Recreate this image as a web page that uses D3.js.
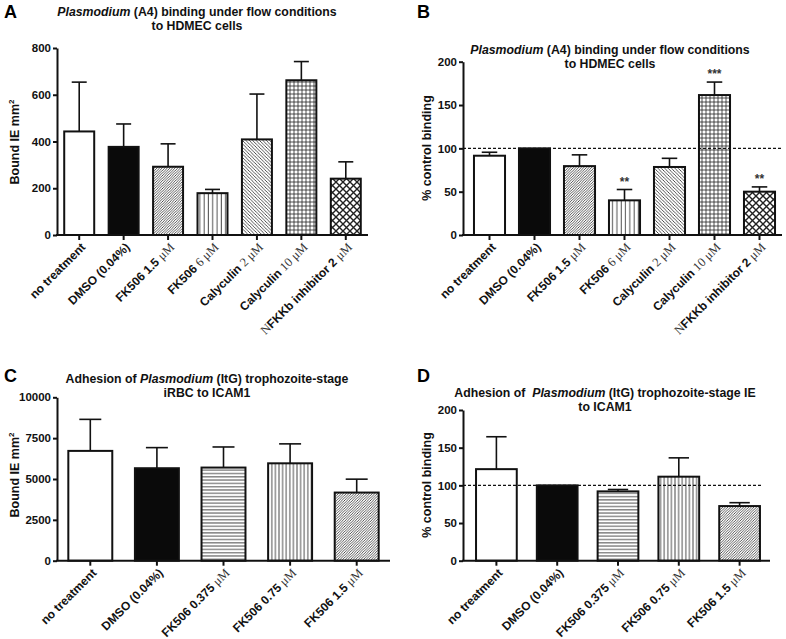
<!DOCTYPE html>
<html>
<head>
<meta charset="utf-8">
<script src="https://cdn.jsdelivr.net/npm/d3@7"></script>
<style>
  body { margin: 0; background: #fff; }
  svg { font-family: Arial, "Liberation Sans", sans-serif; }
</style>
</head>
<body>
<div id="chart"></div>
<script>
// data
const labelsAB = ["no treatment", "DMSO (0.04%)", "FK506 1.5 {μM}", "FK506 {6 μM}",
  "Calyculin {2 μM}", "Calyculin {10 μM}", "{N}FKKb inhibitor 2 {μM}"];
const meansA = [443, 377, 292, 179, 409, 662, 241];
const errA = [654, 475, 390, 195, 603, 742, 313];
const meansB = [91.5, 100, 79.5, 40, 78.5, 161.5, 50];
const errB = [95.5, 100, 92.5, 52.5, 88.5, 176.5, 55.5];
const starsB = ["", "", "", "**", "", "***", "**"];

const labelsCD = ["no treatment", "DMSO (0.04%)", "FK506 0.375 {μM}", "FK506 0.75 {μM}", "FK506 1.5 {μM}"];
const meansC = [6720, 5660, 5700, 5960, 4170];
const errC = [8650, 6920, 6960, 7150, 4990];
const meansD = [121.5, 100, 92, 111.5, 72.5];
const errD = [164.5, 100, 94.5, 136.5, 77];

const ticksA = [0, 200, 400, 600, 800];
const ticksB = [0, 50, 100, 150, 200];
const ticksC = [0, 2500, 5000, 7500, 10000];
const ticksD = [0, 50, 100, 150, 200];

// fills per bar
const fillsAB = ["white", "#0a0a0a", "url(#diag)", "url(#vert)", "url(#back)", "url(#grid)", "url(#cross)"];
const fillsCD = ["white", "#0a0a0a", "url(#horiz)", "url(#vert2)", "url(#diag)"];

const svg = d3.select("#chart").append("svg")
  .attr("width", 786).attr("height", 639);
svg.append("rect").attr("width", 786).attr("height", 639).attr("fill", "white");

// hatch patterns
const defs = svg.append("defs");
function hatch(id, size, lines, sw) {
  const p = defs.append("pattern").attr("id", id)
    .attr("patternUnits", "userSpaceOnUse")
    .attr("width", size).attr("height", size);
  p.append("rect").attr("width", size).attr("height", size).attr("fill", "white");
  lines.forEach(l => p.append("path").attr("d", l)
    .attr("stroke", "#222").attr("stroke-width", sw).attr("fill", "none"));
}
hatch("diag", 2.6, ["M-1,1 l2,-2 M0,2.6 l2.6,-2.6 M1.6,3.6 l2,-2"], 0.75);
hatch("back", 3.4, ["M-1,-1 l2,2 M0,0 l3.4,3.4 M2.4,-1 l2,2 M-1,2.4 l2,2"], 0.75);
hatch("vert", 4.3, ["M2,0 v4.3"], 0.8);
hatch("vert2", 3.6, ["M1.8,0 v3.6"], 0.8);
hatch("horiz", 3.3, ["M0,1.6 h3.3"], 0.8);
hatch("grid", 4, ["M2,0 v4 M0,2 h4"], 0.8);
hatch("cross", 7, ["M0,0 l7,7 M7,0 l-7,7"], 1.4);

function renderLabel(sel, str) {
  const parts = str.split(/(\{[^}]*\})/).filter(s => s.length);
  parts.forEach(s => {
    if (s.startsWith("{")) {
      sel.append("tspan").text(s.slice(1, -1))
        .style("font-family", "'Liberation Serif', 'DejaVu Serif', serif")
        .style("font-weight", "normal").style("font-size", "12.5px").attr("fill", "#333");
    } else {
      sel.append("tspan").text(s);
    }
  });
}

function drawPanel(cfg) {
  const g = svg.append("g");
  const x = d3.scaleBand().domain(cfg.labels).range(cfg.xRange)
    .paddingInner(cfg.pad).paddingOuter(cfg.pad / 2);
  const y = d3.scaleLinear().domain([0, cfg.yMax]).range(cfg.yRange);
  const axisX = cfg.axisX;
  const y0 = y(0);

  // panel letter
  g.append("text").attr("x", cfg.letter[1]).attr("y", cfg.letter[2])
    .style("font-size", "18px").style("font-weight", "bold").text(cfg.letter[0]);

  // title
  const t = g.append("text").attr("text-anchor", "middle")
    .style("font-size", "12.3px").style("font-weight", "bold").style("white-space", "pre")
    .attr("fill", "#111");
  cfg.title.forEach((line, i) => {
    const ts = t.append("tspan").attr("x", cfg.titlePos[0]).attr("y", cfg.titlePos[1] + i * 13.5);
    line.split(/(Plasmodium)/).forEach(s => {
      if (!s) return;
      const sp = ts.append("tspan").text(s);
      if (s === "Plasmodium") sp.style("font-style", "italic");
    });
  });

  const data = cfg.labels.map((l, i) => ({ l, v: cfg.means[i], e: cfg.errs[i], f: cfg.fills[i], s: cfg.stars ? cfg.stars[i] : "" }));

  // error bars (upper only)
  const capW = x.bandwidth() / 2;
  data.forEach(d => {
    if (d.e <= d.v) return;
    const cx = x(d.l) + x.bandwidth() / 2;
    g.append("line").attr("x1", cx).attr("x2", cx).attr("y1", y(d.v)).attr("y2", y(d.e))
      .attr("stroke", "#111").attr("stroke-width", 1.6);
    g.append("line").attr("x1", cx - capW / 2).attr("x2", cx + capW / 2).attr("y1", y(d.e)).attr("y2", y(d.e))
      .attr("stroke", "#111").attr("stroke-width", 1.6);
  });

  // bars
  g.selectAll(".bar").data(data).enter().append("rect")
    .attr("x", d => x(d.l)).attr("width", x.bandwidth())
    .attr("y", d => y(d.v)).attr("height", d => y0 - y(d.v))
    .attr("fill", d => d.f).attr("stroke", "#111").attr("stroke-width", 2);

  // significance stars
  g.selectAll(".star").data(data.filter(d => d.s)).enter().append("text")
    .attr("x", d => x(d.l) + x.bandwidth() / 2).attr("y", d => y(d.e) - 4)
    .attr("text-anchor", "middle").style("font-size", "12px").style("font-weight", "bold")
    .attr("fill", "#333").text(d => d.s);

  // reference line
  if (cfg.refLine) {
    g.append("line").attr("x1", axisX).attr("x2", cfg.refEnd)
      .attr("y1", y(100)).attr("y2", y(100))
      .attr("stroke", "#111").attr("stroke-width", 1.3).attr("stroke-dasharray", "3,2");
  }

  // y axis
  const ya = g.append("g").attr("transform", `translate(${axisX},0)`)
    .call(d3.axisLeft(y).tickValues(cfg.ticks).tickSize(4).tickSizeOuter(0).tickPadding(2)
      .tickFormat(d3.format("d")));
  ya.select(".domain").attr("stroke", "#111").attr("stroke-width", 2);
  ya.selectAll(".tick line").attr("stroke", "#111").attr("stroke-width", 2);
  ya.selectAll(".tick text").style("font-size", "11.5px").style("font-weight", "bold")
    .style("font-family", "Arial, 'Liberation Sans', sans-serif").attr("fill", "#111");

  // x axis
  const xa = g.append("g").attr("transform", `translate(0,${y0})`)
    .call(d3.axisBottom(x).tickSize(5).tickFormat(""));
  xa.select(".domain").remove();
  xa.selectAll(".tick line").attr("stroke", "#111").attr("stroke-width", 2);
  g.append("line").attr("x1", axisX - 1).attr("x2", cfg.xRange[1]).attr("y1", y0).attr("y2", y0)
    .attr("stroke", "#111").attr("stroke-width", 2);

  // rotated category labels
  cfg.labels.forEach(l => {
    const cx = x(l) + x.bandwidth() / 2;
    const tx = g.append("text")
      .attr("transform", `translate(${cx + 4},${y0 + 10}) rotate(-45)`)
      .attr("text-anchor", "end").attr("dy", "0.35em")
      .style("font-size", "12px").style("font-weight", "bold").attr("fill", "#111");
    renderLabel(tx, l);
  });

  // y axis label
  const yl = g.append("text")
    .attr("transform", `translate(${cfg.yLabelPos[0]},${cfg.yLabelPos[1]}) rotate(-90)`)
    .attr("text-anchor", "middle").attr("dy", "0.35em")
    .style("font-size", "12.5px").style("font-weight", "bold").attr("fill", "#111");
  if (cfg.yLabel === "Bound IE mm2") {
    yl.append("tspan").text("Bound IE mm");
    yl.append("tspan").text("2").attr("dy", -5).style("font-size", "8px");
  } else {
    yl.text(cfg.yLabel);
  }
}

drawPanel({
  letter: ["A", 4, 18], title: ["Plasmodium (A4) binding under flow conditions", "to HDMEC cells"],
  titlePos: [197, 16], labels: labelsAB, means: meansA, errs: errA, fills: fillsAB,
  ticks: ticksA, yMax: 800, yRange: [235, 48], xRange: [57, 368], axisX: 57, pad: 0.325,
  yLabel: "Bound IE mm2", yLabelPos: [15, 142]
});
drawPanel({
  letter: ["B", 417, 18], title: ["Plasmodium (A4) binding under flow conditions", "to HDMEC cells"],
  titlePos: [610, 54], labels: labelsAB, means: meansB, errs: errB, fills: fillsAB, stars: starsB,
  ticks: ticksB, yMax: 200, yRange: [235, 61.7], xRange: [467, 782], axisX: 463, pad: 0.31,
  refLine: true, refEnd: 783, yLabel: "% control binding", yLabelPos: [427, 148]
});
drawPanel({
  letter: ["C", 4, 382], title: ["Adhesion of Plasmodium (ItG) trophozoite-stage", "iRBC to ICAM1"],
  titlePos: [207, 383], labels: labelsCD, means: meansC, errs: errC, fills: fillsCD,
  ticks: ticksC, yMax: 10000, yRange: [560.7, 397.3], xRange: [57, 390], axisX: 57, pad: 0.34,
  yLabel: "Bound IE mm2", yLabelPos: [15, 475]
});
drawPanel({
  letter: ["D", 417, 382], title: ["Adhesion of  Plasmodium (ItG) trophozoite-stage IE", "to ICAM1"],
  titlePos: [605, 397], labels: labelsCD, means: meansD, errs: errD, fills: fillsCD,
  ticks: ticksD, yMax: 200, yRange: [560.7, 410], xRange: [466, 770], axisX: 463, pad: 0.33,
  refLine: true, refEnd: 762, yLabel: "% control binding", yLabelPos: [427, 485]
});
</script>
</body>
</html>
